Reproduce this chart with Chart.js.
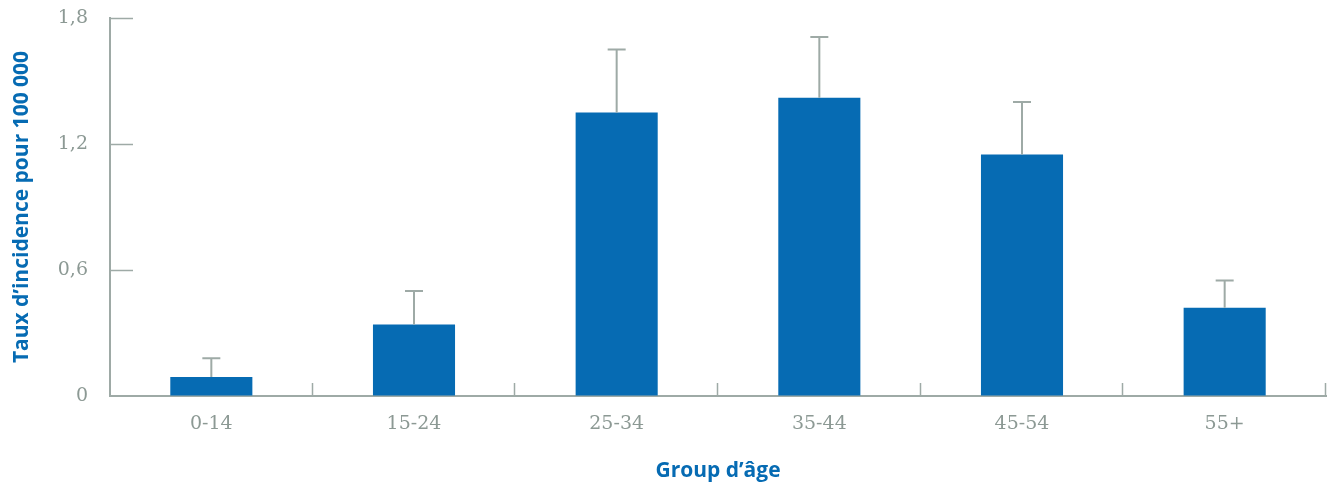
<!DOCTYPE html>
<html>
<head>
<meta charset="utf-8">
<title>Taux d'incidence par groupe d'âge</title>
<script src="https://cdn.jsdelivr.net/npm/chart.js@4.4.1/dist/chart.umd.min.js"></script>
<style>
html, body { margin:0; padding:0; background:#fff; }
#wrap { position:relative; width:1329px; height:487px; }
</style>
</head>
<body>

<div id="wrap">
	<canvas id="myChart"></canvas>
</div>

<script>
var ageGroups = ['0-14', '15-24', '25-34', '35-44', '45-54', '55+'];
var rates     = [0.09, 0.34, 1.35, 1.42, 1.15, 0.42];
var upperCI   = [0.18, 0.50, 1.65, 1.71, 1.40, 0.55];
var yTicks      = [0, 0.6, 1.2, 1.8];
var yTickLabels = ['0', '0,6', '1,2', '1,8'];

var blue = '#066bb3';
var grey = '#9eaaa6';
var tickGrey = '#8c9994';

// upper error bars + the short inner ticks on both axes
var extras = {
  id: 'extras',
  afterDatasetsDraw: function(chart) {
    var ctx = chart.ctx, x = chart.scales.x, y = chart.scales.y;
    var area = chart.chartArea;
    var meta = chart.getDatasetMeta(0);
    ctx.save();
    ctx.strokeStyle = grey;
    ctx.lineWidth = 2;
    meta.data.forEach(function(bar, i) {
      var top = y.getPixelForValue(upperCI[i]);
      ctx.beginPath();
      ctx.moveTo(bar.x, bar.y);
      ctx.lineTo(bar.x, top);
      ctx.moveTo(bar.x - 9, top);
      ctx.lineTo(bar.x + 9, top);
      ctx.stroke();
    });
    // y ticks pointing into the plot
    ctx.lineWidth = 1.5;
    yTicks.forEach(function(v) {
      if (v === 0) return;
      var py = Math.round(y.getPixelForValue(v)) + 0.5;
      ctx.beginPath();
      ctx.moveTo(area.left, py);
      ctx.lineTo(area.left + 23, py);
      ctx.stroke();
    });
    // category separators on the x axis
    var step = (area.right - area.left) / ageGroups.length;
    for (var k = 1; k <= ageGroups.length; k++) {
      var px = Math.round(area.left + k * step) - 0.5;
      ctx.beginPath();
      ctx.moveTo(px, area.bottom);
      ctx.lineTo(px, area.bottom - 13);
      ctx.stroke();
    }
    ctx.restore();
  }
};

var ctx = document.getElementById('myChart').getContext('2d');
var chart = new Chart(ctx, {
  type: 'bar',
  data: {
    labels: ageGroups,
    datasets: [{
      data: rates,
      backgroundColor: blue,
      borderWidth: 0,
      barPercentage: 0.81,
      categoryPercentage: 0.5
    }]
  },
  plugins: [extras],
  options: {
    responsive: true,
    maintainAspectRatio: false,
    animation: false,
    layout: { padding: { top: 18, right: 3, bottom: 0, left: 0 } },
    plugins: { legend: { display: false }, tooltip: { enabled: false } },
    scales: {
      x: {
        afterFit: function(s) { s.height = 91; },
        grid: { display: false, drawTicks: false },
        border: { display: true, color: grey, width: 2 },
        ticks: { padding: 17, color: tickGrey, font: { family: 'DejaVu Serif', size: 19 } },
        title: {
          display: true,
          text: 'Group d\u2019âge',
          color: blue,
          font: { family: 'Open Sans', size: 21, weight: 'bold' },
          padding: { top: 0, bottom: 3 }
        }
      },
      y: {
        min: 0,
        max: 1.8,
        afterFit: function(s) { s.width = 110; },
        afterBuildTicks: function(s) { s.ticks = yTicks.map(function(v) { return { value: v }; }); },
        // invisible tick marks only push the labels away from the axis
        grid: { display: true, drawOnChartArea: false, drawTicks: true, tickLength: 22, tickColor: 'rgba(0,0,0,0)' },
        border: { display: true, color: grey, width: 2 },
        ticks: {
          padding: 0,
          color: tickGrey,
          font: { family: 'DejaVu Serif', size: 19 },
          callback: function(v) { return yTickLabels[yTicks.indexOf(Math.round(v * 10) / 10)]; }
        },
        title: {
          display: true,
          text: 'Taux d\u2019incidence pour 100 000',
          color: blue,
          font: { family: 'Open Sans', size: 21, weight: 'bold' },
          padding: { top: 9, bottom: 0 }
        }
      }
    }
  }
});
</script>
</body>
</html>
